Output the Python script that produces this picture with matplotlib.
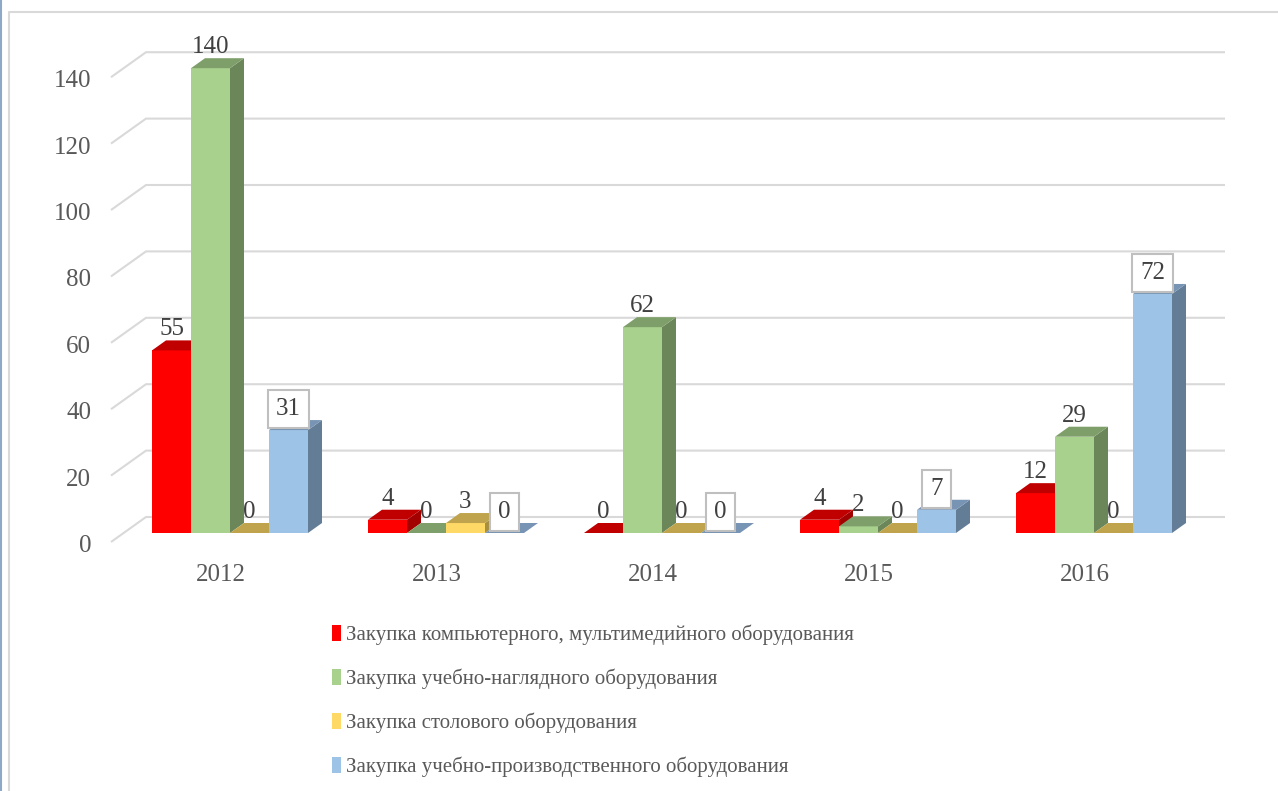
import matplotlib.pyplot as plt
from matplotlib.patches import Polygon, Patch
from matplotlib.lines import Line2D

# data
years = ['2012', '2013', '2014', '2015', '2016']
series_names = [
    'Закупка компьютерного, мультимедийного оборудования',
    'Закупка учебно-наглядного оборудования',
    'Закупка столового оборудования',
    'Закупка учебно-производственного оборудования',
]
computer = [55, 4, 0, 4, 12]
visual = [140, 0, 62, 2, 29]
canteen = [0, 3, 0, 0, 0]
production = [31, 0, 0, 7, 72]
yticks = [0, 20, 40, 60, 80, 100, 120, 140]

values = [computer, visual, canteen, production]
# front, top, side colours per series
front_c = ['#FF0000', '#A9D18E', '#FFD966', '#9DC3E6']
top_c = ['#C00000', '#7F9F6A', '#C0A44D', '#7794B4']
side_c = ['#A30000', '#6B8759', '#A88E3F', '#647D97']
boxed = [False, False, False, True]

plt.rcParams['font.family'] = ['Liberation Serif', 'DejaVu Serif']

W, H = 1278, 791
fig = plt.figure(figsize=(W / 100, H / 100), dpi=100)
ax = fig.add_axes([0, 0, 1, 1])
# pixel layout: group pitch 216 px, first group centre at 230 px, baseline 533 px, 3.32 px per unit
pitch, x0, base, ppu = 216.0, 230.0, 533.0, 3.32
ax.set_xlim(-x0 / pitch, (W - x0) / pitch)
ax.set_ylim(-(H - base) / ppu, base / ppu)
ax.axis('off')

bw = 39 / pitch          # bar width
ddx = 14 / pitch         # depth offset x
ddy = 10 / ppu           # depth offset y

# back wall gridlines with perspective floor lines
gx_front, gx_back, gx_end = (111 - x0) / pitch, (146 - x0) / pitch, (1225 - x0) / pitch
g_front, g_back = -9 / ppu, 16 / ppu
for v in yticks:
    ax.plot([gx_front, gx_back, gx_end], [v + g_front, v + g_back, v + g_back],
            color='#D9D9D9', lw=1.5, zorder=1, solid_capstyle='butt')
    ax.text((91 - x0) / pitch, v - 3.9, str(v), ha='right', va='center',
            fontsize=18, color='#595959')

for i, year in enumerate(years):
    left0 = i - 2 * bw
    for s in range(4):
        h = values[s][i]
        xl, xr = left0 + s * bw, left0 + (s + 1) * bw
        z = 3 + i * 10 + s
        if h > 0:
            ax.add_patch(Polygon([(xl, 0), (xr, 0), (xr, h), (xl, h)],
                                 closed=True, fc=front_c[s], ec='none', zorder=z))
            ax.add_patch(Polygon([(xr, 0), (xr + ddx, ddy), (xr + ddx, h + ddy), (xr, h)],
                                 closed=True, fc=side_c[s], ec='none', zorder=z))
        ax.add_patch(Polygon([(xl, h), (xr, h), (xr + ddx, h + ddy), (xl + ddx, h + ddy)],
                             closed=True, fc=top_c[s], ec='none', zorder=z))
        bbox = None
        if boxed[s]:
            bbox = dict(boxstyle='square,pad=0.33', fc='white', ec='#BFBFBF', lw=1.5)
        ax.text((xl + xr) / 2, h + 6.3, str(h), ha='center', va='center',
                fontsize=18, color='#404040', bbox=bbox, zorder=100)
    ax.text(i - 9 / pitch, -12.6, year, ha='center', va='center',
            fontsize=18, color='#595959')

# outer chart frame
fig.add_artist(Line2D([9 / W, 9 / W, 1], [0, 1 - 12 / H, 1 - 12 / H],
                      color='#D9D9D9', lw=1.5, transform=fig.transFigure))
fig.add_artist(Line2D([1 / W, 1 / W], [0, 1], color='#8EA9C8', lw=1.5,
                      transform=fig.transFigure))

handles = [Patch(fc=front_c[s], ec='none') for s in range(4)]
fig.legend(handles, series_names, loc='upper left',
           bbox_to_anchor=(313 / W, 1 - 606 / H), frameon=False,
           fontsize=15, labelcolor='#595959', handlelength=0.45,
           handleheight=0.75, handletextpad=0.25, labelspacing=1.13)

fig.savefig('out.png', dpi=100)
